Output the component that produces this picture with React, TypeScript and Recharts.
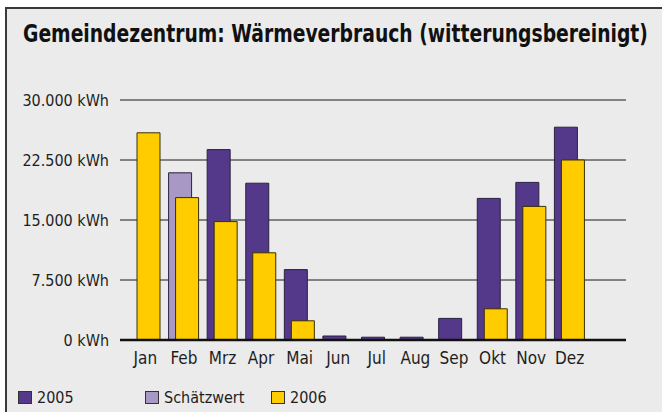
import React, { useLayoutEffect, useRef, useState } from "react";
import { BarChart, Bar, XAxis, YAxis, CartesianGrid } from "recharts";

const months = ["Jan", "Feb", "Mrz", "Apr", "Mai", "Jun", "Jul", "Aug", "Sep", "Okt", "Nov", "Dez"];
const verbrauch2005 = [0, null, 23800, 19600, 8800, 500, 350, 350, 2700, 17700, 19700, 26600];
const schaetzwert = [null, 20900, null, null, null, null, null, null, null, null, null, null];
const verbrauch2006 = [25900, 17800, 14800, 10900, 2400, null, null, null, null, 3900, 16700, 22500];
const yTicks = [0, 7500, 15000, 22500, 30000];

const data = months.map((m, i) => ({
  month: m,
  v2005: verbrauch2005[i],
  schaetz: schaetzwert[i],
  v2006: verbrauch2006[i],
}));

const FONT = "'Liberation Sans Narrow', 'DejaVu Sans Condensed', Arial, sans-serif";
const C2005 = "#54388a";
const CSCHAETZ = "#a898c6";
const C2006 = "#ffcc00";

const legendItems = [
  { label: "2005", color: C2005, left: 18 },
  { label: "Schätzwert", color: CSCHAETZ, left: 145 },
  { label: "2006", color: C2006, left: 271 },
];

const fmt = (v: number) => `${v.toLocaleString("de-DE")} kWh`;

// title squeezed to the width it has in the original (condensed font)
function Title() {
  const ref = useRef<HTMLSpanElement>(null);
  const [sx, setSx] = useState(0.8);
  useLayoutEffect(() => {
    if (ref.current) {
      const w = ref.current.offsetWidth;
      if (w > 0) setSx(625 / w);
    }
  }, []);
  return (
    <span
      ref={ref}
      style={{
        position: "absolute",
        left: 23,
        top: 22,
        fontSize: 24,
        lineHeight: "24px",
        fontWeight: "bold",
        color: "#111",
        whiteSpace: "nowrap",
        transform: `scaleX(${sx})`,
        transformOrigin: "0 0",
      }}
    >
      Gemeindezentrum: Wärmeverbrauch (witterungsbereinigt)
    </span>
  );
}

export default function App() {
  return (
    <div style={{ position: "absolute", left: 0, top: 0, width: 662, height: 412, background: "#fff", overflow: "hidden", fontFamily: FONT }}>
      <div
        style={{
          position: "absolute",
          left: 5,
          top: 7,
          width: 700,
          height: 450,
          background: "#ebebeb",
          borderLeft: "2px solid #3a3a3a",
          borderTop: "2px solid #3a3a3a",
        }}
      />
      <Title />
      <div style={{ position: "absolute", left: 0, top: 0 }}>
        <BarChart
          width={662}
          height={380}
          data={data}
          margin={{ top: 100, right: 36, left: 0, bottom: 10 }}
          barGap={-16}
          barSize={23}
        >
          <CartesianGrid horizontal vertical={false} stroke="#1a1a1a" strokeWidth={1} />
          <XAxis
            dataKey="month"
            height={30}
            padding={{ left: 6, right: 37 }}
            tickLine={false}
            tickSize={0}
            tickMargin={12}
            axisLine={{ stroke: "#111", strokeWidth: 2.5 }}
            tick={{ fill: "#1e1e1e", fontSize: 17, fontFamily: FONT }}
            interval={0}
          />
          <YAxis
            width={120}
            domain={[0, 30000]}
            ticks={yTicks}
            tickFormatter={fmt}
            axisLine={false}
            tickLine={false}
            tickSize={0}
            tickMargin={11}
            tick={{ fill: "#1e1e1e", fontSize: 16, fontFamily: FONT }}
          />
          <Bar dataKey="v2005" stackId="a" fill={C2005} stroke="#2b2140" strokeWidth={1} isAnimationActive={false} />
          <Bar dataKey="schaetz" stackId="a" fill={CSCHAETZ} stroke="#2b2140" strokeWidth={1} isAnimationActive={false} />
          <Bar dataKey="v2006" fill={C2006} stroke="#3a3000" strokeWidth={1} isAnimationActive={false} />
        </BarChart>
      </div>
      {legendItems.map((it) => (
        <div key={it.label} style={{ position: "absolute", left: it.left, top: 389, height: 17, display: "flex", alignItems: "center", fontSize: 16, lineHeight: "17px", color: "#1e1e1e" }}>
          <span style={{ display: "inline-block", width: 12, height: 11, background: it.color, border: "1px solid #333", marginRight: 5 }} />
          <span>{it.label}</span>
        </div>
      ))}
    </div>
  );
}
